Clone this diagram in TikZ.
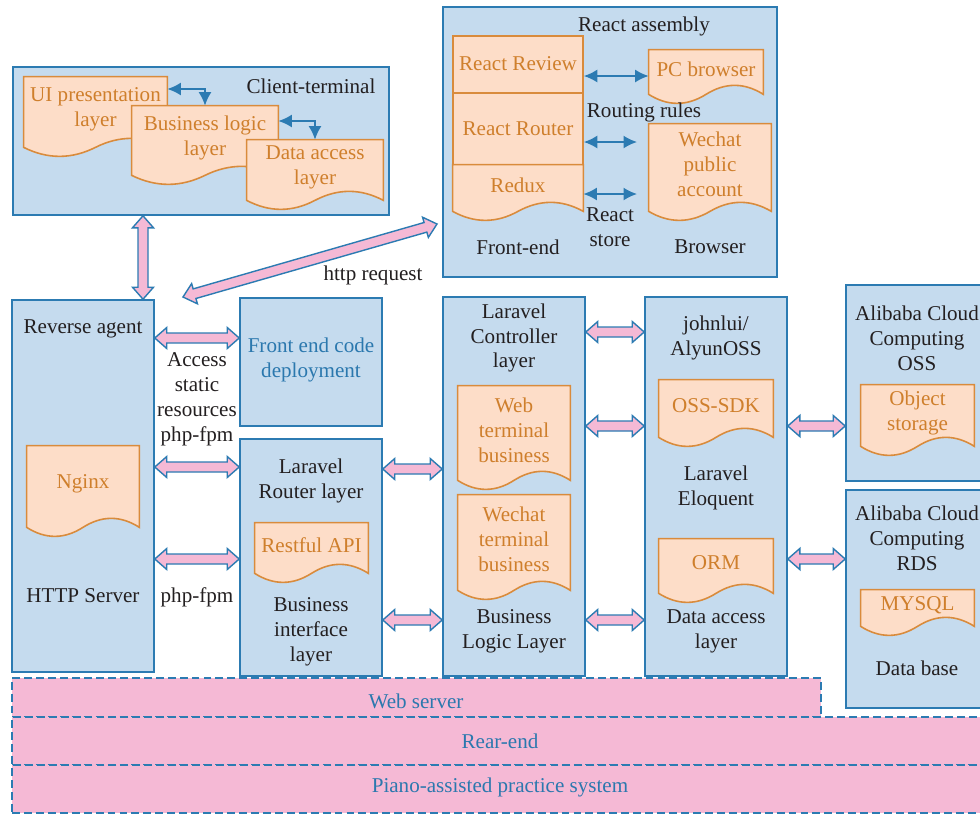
\documentclass[tikz,border=0pt]{standalone}
\usepackage{fontspec}
\setmainfont{Liberation Serif}
\usetikzlibrary{arrows.meta,calc,fit}

\definecolor{boxfill}{HTML}{C5DBEE}
\definecolor{boxline}{HTML}{2C7BB2}
\definecolor{docfill}{HTML}{FDDDC8}
\definecolor{docline}{HTML}{D98B3C}
\definecolor{doctxt}{HTML}{CF7F2C}
\definecolor{bandfill}{HTML}{F5B9D5}
\definecolor{txtblue}{HTML}{2B78AE}
\definecolor{txtdark}{HTML}{231F20}

% document shape with a wavy bottom: name, top left, bottom right, text
\newcommand{\docbox}[4]{%
  \node[fit={#2 #3}, inner sep=0pt] (#1) {};
  \filldraw[doc] (#1.south west) -- (#1.north west) -- (#1.north east) -- (#1.south east)
    .. controls ($(#1.south east)!0.1667!(#1.south west)+(0,-12)$)
           and ($(#1.south east)!0.3333!(#1.south west)+(0,-12)$) .. (#1.south)
    .. controls ($(#1.south east)!0.6667!(#1.south west)+(0,12)$)
           and ($(#1.south east)!0.8333!(#1.south west)+(0,12)$) .. (#1.south west) -- cycle;
  \node[doctext] (#1-t) at ($(#1.center)+(0,-3)$) {#4};
}

% hollow double arrow between two points
\newcommand{\fatarrow}[2]{%
  \path #1 coordinate (fa-a) #2 coordinate (fa-b);
  \filldraw[fat] (fa-a)
    -- ($(fa-a)!0.24cm!(fa-b)!0.21cm!90:(fa-b)$)
    -- ($(fa-a)!0.24cm!(fa-b)!0.1cm!90:(fa-b)$)
    -- ($(fa-b)!0.24cm!(fa-a)!0.1cm!-90:(fa-a)$)
    -- ($(fa-b)!0.24cm!(fa-a)!0.21cm!-90:(fa-a)$)
    -- (fa-b)
    -- ($(fa-b)!0.24cm!(fa-a)!0.21cm!90:(fa-a)$)
    -- ($(fa-b)!0.24cm!(fa-a)!0.1cm!90:(fa-a)$)
    -- ($(fa-a)!0.24cm!(fa-b)!0.1cm!-90:(fa-b)$)
    -- ($(fa-a)!0.24cm!(fa-b)!0.21cm!-90:(fa-b)$)
    -- cycle;
}

\begin{document}
\begin{tikzpicture}
  [x=0.02cm, y=-0.02cm,
  box/.style={draw=boxline, fill=boxfill, line width=0.9pt, inner sep=0pt},
  stack/.style={draw=docline, fill=docfill, line width=0.9pt, inner sep=0pt},
  doc/.style={draw=docline, fill=docfill, line width=0.9pt},
  doctext/.style={text=doctxt, align=center, inner sep=0pt, font=\fontsize{12}{14.2}\selectfont},
  lbl/.style={text=txtdark, align=center, inner sep=0pt, font=\fontsize{12}{14.2}\selectfont},
  link/.style={draw=boxline, line width=1pt, <->, >={Latex[length=2.7mm,width=2.6mm]}},
  fat/.style={draw=boxline, fill=bandfill, line width=0.8pt, line join=miter},
  band/.style={draw=boxline, fill=bandfill, line width=0.9pt, dash pattern=on 4.5pt off 2.3pt,
    inner sep=0pt},
  bandtext/.style={text=txtblue, inner sep=0pt, font=\fontsize{12}{14.2}\selectfont},
  ]
  \path[use as bounding box, clip] (0,0) rectangle (980,816);

  % containers
  \node[box, fit={(13,67) (389,215)}] (client) {};
  \node[box, fit={(443,7) (777,277)}] (react) {};
  \node[box, fit={(12,300) (154,672)}] (rev) {};
  \node[box, fit={(240,298) (382,426)}] (fe) {};
  \node[box, fit={(240,439) (382,676)}] (rtr) {};
  \node[box, fit={(443,297) (585,676)}] (ctl) {};
  \node[box, fit={(645,297) (787,676)}] (jl) {};
  \node[box, fit={(846,285) (995,481)}] (oss) {};
  \node[box, fit={(846,490) (995,708)}] (rds) {};

  % client terminal
  \node[lbl] (client-l) at (311,86) {Client-terminal};
  \docbox{ui}{(24,77)}{(167,147)}{UI presentation\\layer}
  \docbox{bl}{(132,106)}{(278,175)}{Business logic\\layer}
  \docbox{da}{(247,140)}{(383,200)}{Data access\\layer}
  \draw[link] (ui.north east |- 0,89) -| (bl.north);
  \draw[link] (bl.north east |- 0,121) -| (da.north);

  % react front end
  \node[lbl] (react-l) at (644,26) {React assembly};
  \node[stack, fit={(453,36) (583,93)}] (rrev) {};
  \node[doctext] (rrev-t) at (518,64) {React Review};
  \node[stack, fit={(453,93) (583,165)}] (rrou) {};
  \node[doctext] (rrou-t) at (518,129) {React Router};
  \docbox{redux}{(453,165)}{(583,211)}{Redux}
  \docbox{pcb}{(649,50)}{(763,94)}{PC browser}
  \docbox{wpa}{(649,124)}{(771,211)}{Wechat\\public\\account}
  \coordinate (rt-end) at (637,142);
  \coordinate (rs-end) at (637,194);
  \draw[link] (rrev.east |- 0,76) -- (pcb.west |- 0,76);
  \draw[link] (rrou.east |- rt-end) -- (rt-end);
  \draw[link] (redux.east |- rs-end) -- (rs-end);
  \node[lbl] (route-l) at (644,112) {Routing rules};
  \node[lbl] (store-l) at (610,227) {React\\store};
  \node[lbl] (fend-l) at (518,247) {Front-end};
  \node[lbl] (brow-l) at (710,247) {Browser};

  % web server side
  \node[lbl] (rev-t) at (83,329) {Reverse agent};
  \docbox{nginx}{(27,446)}{(139,527)}{Nginx}
  \node[lbl] (rev-b) at (83,596) {HTTP Server};
  \node[lbl, text=txtblue] (fe-t) at (311,360) {Front end code\\deployment};
  \node[lbl] (access-l) at (197,399) {Access\\static\\resources\\php-fpm};
  \node[lbl] (fpm-l) at (197,597) {php-fpm};
  \node[lbl] (rtr-t) at (311,481) {Laravel\\Router layer};
  \docbox{api}{(255,523)}{(368,573)}{Restful API}
  \node[lbl] (rtr-b) at (311,632) {Business\\interface\\layer};

  \node[lbl] (ctl-t) at (514,338) {Laravel\\Controller\\layer};
  \docbox{web}{(458,386)}{(570,480)}{Web\\terminal\\business}
  \docbox{wct}{(458,495)}{(570,590)}{Wechat\\terminal\\business}
  \node[lbl] (ctl-b) at (514,631) {Business\\Logic Layer};

  \node[lbl] (jl-t) at (716,338) {johnlui/\\AlyunOSS};
  \docbox{sdk}{(659,380)}{(773,437)}{OSS-SDK}
  \node[lbl] (jl-m) at (716,488) {Laravel\\Eloquent};
  \docbox{orm}{(659,539)}{(773,593)}{ORM}
  \node[lbl] (jl-b) at (716,631) {Data access\\layer};

  % cloud services
  \node[lbl] (oss-t) at (917,338) {Alibaba Cloud\\Computing\\OSS};
  \docbox{obj}{(861,385)}{(974,446)}{Object\\storage}
  \node[lbl] (rds-t) at (917,538) {Alibaba Cloud\\Computing\\RDS};
  \docbox{sql}{(861,590)}{(974,626)}{MYSQL}
  \node[lbl] (rds-b) at (917,668) {Data base};

  % request flow
  \coordinate (http-a) at (183,297);
  \coordinate (http-b) at (437,224);
  \fatarrow{(client.south -| 143,0)}{(rev.north -| 143,0)}
  \fatarrow{(http-a)}{(http-b)}
  \node[lbl] (http-l) at (373,275) {http request};
  \fatarrow{(rev.east |- 0,338)}{(fe.west |- 0,338)}
  \fatarrow{(rev.east |- 0,467)}{(rtr.west |- 0,467)}
  \fatarrow{(rev.east |- 0,559)}{(rtr.west |- 0,559)}
  \fatarrow{(rtr.east |- 0,469)}{(ctl.west |- 0,469)}
  \fatarrow{(rtr.east |- 0,620)}{(ctl.west |- 0,620)}
  \fatarrow{(ctl.east |- 0,332)}{(jl.west |- 0,332)}
  \fatarrow{(ctl.east |- 0,426)}{(jl.west |- 0,426)}
  \fatarrow{(ctl.east |- 0,620)}{(jl.west |- 0,620)}
  \fatarrow{(jl.east |- 0,426)}{(oss.west |- 0,426)}
  \fatarrow{(jl.east |- 0,559)}{(rds.west |- 0,559)}

  % layers underneath
  \node[band, fit={(12,678) (821,717)}] (websrv) {};
  \node[band, fit={(12,717) (990,765)}] (rear) {};
  \node[band, fit={(12,765) (990,813)}] (piano) {};
  \node[bandtext] (websrv-t) at (416,701) {Web server};
  \node[bandtext] (rear-t) at (500,741) {Rear-end};
  \node[bandtext] (piano-t) at (500,787) {Piano-assisted practice system};
\end{tikzpicture}
\end{document}
